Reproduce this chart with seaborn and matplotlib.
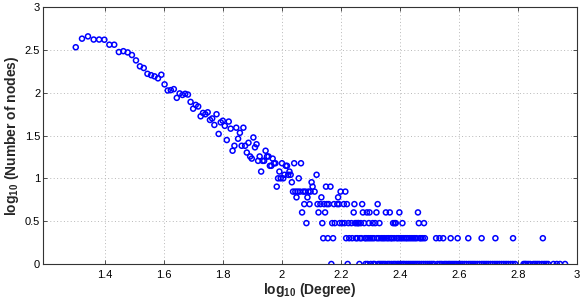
import numpy as np
import pandas as pd
import matplotlib
matplotlib.use("Agg")
import matplotlib.pyplot as plt
import seaborn as sns

# ---- data (degree k, number of nodes with that degree) ----
head_degree = list(range(20, 109)) + [110, 114, 116, 126, 127, 131]
head_count = [339, 427, 454, 417, 417, 415, 363, 363, 298, 305,
              295, 275, 238, 203, 194, 166, 160, 155, 147, 162,
              125, 106, 107, 110, 87, 98, 94, 97, 95, 78,
              65, 72, 69, 53, 58, 56, 59, 48, 50, 42,
              56, 33, 45, 47, 41, 28, 46, 38, 21, 24,
              39, 29, 34, 24, 39, 24, 20, 26, 18, 17,
              30, 23, 25, 16, 18, 12, 16, 16, 21, 18,
              18, 14, 14, 17, 15, 15, 8, 10, 12, 10,
              15, 10, 11, 14, 14, 11, 12, 11, 9,
              15, 10, 15, 9, 8, 11]

deg_count8 = [141, 146]
deg_count7 = [109, 111, 113, 115, 118, 120, 123, 125, 129, 158, 164]
deg_count6 = [112, 122, 136, 155]
deg_count5 = [119, 124, 132, 135, 139, 142, 144, 150, 154, 156, 162, 166, 176, 187, 211]
deg_count4 = [117, 133, 140, 175, 188, 194, 198, 209, 225, 232, 250, 289]
deg_count3 = [121, 137, 148, 151, 157, 160, 163, 168, 172, 177, 179, 181, 182, 185,
              190, 197, 203, 207, 214, 238, 241, 243, 256, 291, 303]
deg_count2 = [138, 143, 149, 165, 169, 173, 178, 180, 184, 186, 191, 193, 196, 199,
              202, 205, 210, 213, 217, 220, 223, 227, 230, 234, 236, 240, 245, 248,
              252, 255, 259, 263, 266, 270, 274, 278, 282, 286, 293, 296, 300, 305,
              333, 342, 352, 373, 394, 428, 475, 529, 607, 766]
deg_count1 = [147, 167, 183, 192, 195, 200, 204, 206, 212, 215, 218, 221, 224, 228,
              231, 235, 239, 242, 246, 249, 253, 257, 260, 264, 268, 272, 276, 280,
              284, 288, 292, 297, 302, 307, 312, 317, 322, 327, 337, 343, 348, 355,
              360, 366, 371, 377, 383, 389, 396, 402, 408, 415, 422, 430, 437, 444,
              451, 459, 467, 476, 484, 492, 500, 509, 518, 527, 536, 545, 555, 565,
              575, 585, 596, 606, 617, 659, 666, 673, 683, 694, 712, 722, 733, 744,
              760, 774, 786, 798, 832, 854, 876, 911]

x_ticks = [1.4, 1.6, 1.8, 2.0, 2.2, 2.4, 2.6, 2.8, 3.0]
x_tick_labels = ["1.4", "1.6", "1.8", "2", "2.2", "2.4", "2.6", "2.8", "3"]
y_ticks = [0, 0.5, 1, 1.5, 2, 2.5, 3]
y_tick_labels = ["0", "0.5", "1", "1.5", "2", "2.5", "3"]

# ---- assemble table ----
degrees = list(head_degree)
counts = list(head_count)
for c, lst in [(8, deg_count8), (7, deg_count7), (6, deg_count6), (5, deg_count5),
               (4, deg_count4), (3, deg_count3), (2, deg_count2), (1, deg_count1)]:
    degrees += lst
    counts += [c] * len(lst)

df = pd.DataFrame({"degree": degrees, "count": counts})
df["log_degree"] = np.log10(df["degree"])
df["log_count"] = np.log10(df["count"])

# ---- style ----
sns.set_theme(style="white")
plt.rcParams["font.family"] = ["Liberation Sans", "DejaVu Sans"]
plt.rcParams["mathtext.fontset"] = "custom"
plt.rcParams["mathtext.rm"] = "Liberation Sans"
plt.rcParams["mathtext.bf"] = "Liberation Sans:bold"

fig = plt.figure(figsize=(5.81, 2.99), dpi=100)
ax = fig.add_axes([43 / 581, 1 - 264 / 299, (577 - 43) / 581, (264 - 7) / 299])

sns.scatterplot(data=df, x="log_degree", y="log_count", ax=ax,
                marker="o", s=13, linewidth=1.1, legend=False)
pts = ax.collections[0]
pts.set_facecolor("none")
pts.set_edgecolor("#0000ff")

ax.set_xlim(1.19, 3.0)
ax.set_ylim(0, 3)
ax.set_xticks(x_ticks)
ax.set_xticklabels(x_tick_labels)
ax.set_yticks(y_ticks)
ax.set_yticklabels(y_tick_labels)

ax.grid(True, linestyle=(0, (1, 2.5)), linewidth=0.7, color="#b8b8b8")
ax.set_axisbelow(True)
for sp in ax.spines.values():
    sp.set_visible(True)
    sp.set_color("#333333")
    sp.set_linewidth(0.8)

ax.tick_params(axis="both", which="both", direction="in", length=3, width=0.6,
               colors="#333333", labelcolor="black", labelsize=8,
               top=True, right=True, bottom=True, left=True)
ax.tick_params(axis="x", pad=4)
ax.tick_params(axis="y", pad=2)

ax.set_xlabel(r"log$_{\mathbf{10}}$ (Degree)", fontsize=10, fontweight="bold", labelpad=1)
ax.set_ylabel(r"log$_{\mathbf{10}}$ (Number of nodes)", fontsize=10, fontweight="bold", labelpad=3)

fig.savefig("out.png", dpi=100)
